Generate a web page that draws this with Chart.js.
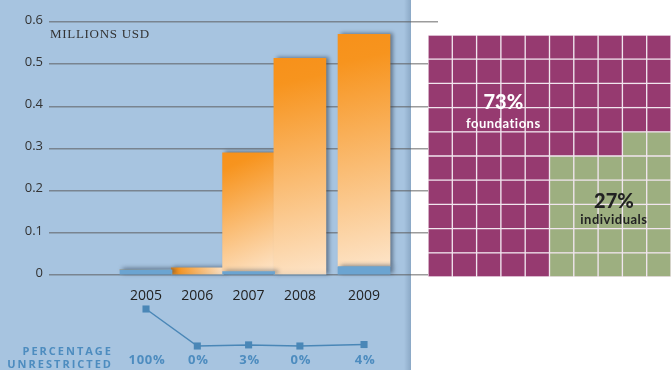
<!DOCTYPE html>
<html>
<head>
<meta charset="utf-8">
<script src="https://cdn.jsdelivr.net/npm/chart.js@4/dist/chart.umd.min.js"></script>
<style>
  body { margin: 0; background: #fff; }
  #wrap { position: relative; width: 671px; height: 370px; overflow: hidden; }
  #mainChart { position: absolute; left: 0; top: 0; }
  #waffleChart { position: absolute; left: 428px; top: 35px; }
</style>
</head>
<body>
<div id="wrap">
  <canvas id="mainChart" width="671" height="370"></canvas>
  <canvas id="waffleChart" width="243" height="242"></canvas>
</div>
<script>
// Datos
const years = ["2005", "2006", "2007", "2008", "2009"];
const unrestricted = [0.012, 0, 0.008, 0, 0.02];     // millones USD sin restricción
const restricted = [0, 0.017, 0.282, 0.514, 0.551];  // millones USD con restricción
const pctUnrestricted = [100, 0, 3, 0, 4];
const yTicks = [0, 0.1, 0.2, 0.3, 0.4, 0.5, 0.6];

const waffleLabels = ["foundations", "individuals"];
const waffleShares = [73, 27];

// posiciones de las columnas en el eje x (la de 2009 va separada)
const xSlots = [0, 1, 2, 3, 4.25];

const BG_BLUE = "#a7c4e0";
const BAR_BLUE = "#6ba4d1";
const LINE_BLUE = "#4a87b7";
const PURPLE = "#963a70";
const GREEN = "#9daf80";

function orangeFill(c) {
    const chart = c.chart;
    if (c.type !== "data" || !chart.scales.x || !chart.chartArea) return "#f7941e";
    const i = c.dataIndex;
    const { x, y } = chart.scales;
    const cx = x.getPixelForValue(xSlots[i]);
    const top = y.getPixelForValue(unrestricted[i] + restricted[i]);
    const bot = y.getPixelForValue(unrestricted[i]);
    const g = chart.ctx.createLinearGradient(cx - 26, top, cx + 26, bot);
    g.addColorStop(0, "#f7911a");
    g.addColorStop(0.12, "#f7941e");
    g.addColorStop(1, "#fde4c8");
    return g;
}

const backgroundPlugin = {
    id: "bluePanel",
    beforeDraw(chart) {
        const ctx = chart.ctx;
        ctx.save();
        ctx.fillStyle = BG_BLUE;
        ctx.fillRect(0, 0, 411, chart.height);
        const g = ctx.createLinearGradient(404, 0, 411, 0);
        g.addColorStop(0, "rgba(120,150,180,0)");
        g.addColorStop(1, "rgba(120,150,180,0.6)");
        ctx.fillStyle = g;
        ctx.fillRect(404, 0, 7, chart.height);
        ctx.restore();
    }
};

const shadowPlugin = {
    id: "barShadow",
    beforeDatasetDraw(chart, args) {
        if (args.meta.type !== "bar") return;
        const ctx = chart.ctx;
        ctx.save();
        ctx.shadowColor = "rgba(40,55,75,0.55)";
        ctx.shadowBlur = 4;
        ctx.shadowOffsetX = 3;
        ctx.shadowOffsetY = -1;
    },
    afterDatasetDraw(chart, args) {
        if (args.meta.type !== "bar") return;
        chart.ctx.restore();
    }
};

const textPlugin = {
    id: "extraText",
    afterDraw(chart) {
        const ctx = chart.ctx;
        const x = chart.scales.x;
        ctx.save();
        ctx.fillStyle = "#333";
        ctx.font = "13px 'Liberation Serif'";
        ctx.letterSpacing = "0.7px";
        ctx.textAlign = "left";
        ctx.textBaseline = "alphabetic";
        ctx.fillText("MILLIONS USD", 50, 38);

        ctx.fillStyle = "#4d8cbf";
        ctx.font = "bold 11px 'Open Sans'";
        ctx.letterSpacing = "2px";
        ctx.textAlign = "right";
        ctx.textBaseline = "middle";
        ctx.fillText("PERCENTAGE", 113, 352);
        ctx.fillText("UNRESTRICTED", 113, 365);

        ctx.font = "bold 13px 'Open Sans'";
        ctx.letterSpacing = "0.8px";
        ctx.textAlign = "center";
        pctUnrestricted.forEach((p, i) => {
            ctx.fillText(p + "%", x.getPixelForValue(xSlots[i]) + 1, 360);
        });
        ctx.restore();
    }
};

new Chart(document.getElementById("mainChart"), {
    data: {
        datasets: [
            {
                type: "line",
                yAxisID: "y2",
                order: 0,
                data: pctUnrestricted.map((v, i) => ({ x: xSlots[i], y: v })),
                borderColor: LINE_BLUE,
                borderWidth: 1.5,
                pointStyle: "rect",
                pointRadius: 5,
                pointBackgroundColor: LINE_BLUE,
                pointBorderColor: LINE_BLUE,
                pointBorderWidth: 0,
                clip: false
            },
            {
                type: "bar",
                order: 1,
                data: unrestricted.map((v, i) => ({ x: xSlots[i], y: v })),
                backgroundColor: BAR_BLUE,
                barThickness: 52,
                borderWidth: 0
            },
            {
                type: "bar",
                order: 2,
                data: restricted.map((v, i) => ({ x: xSlots[i], y: v })),
                backgroundColor: orangeFill,
                barThickness: 52,
                borderWidth: 0
            }
        ]
    },
    options: {
        responsive: false,
        animation: false,
        layout: { padding: { top: 22, right: 233, left: 0, bottom: 10 } },
        plugins: { legend: { display: false }, tooltip: { enabled: false } },
        scales: {
            x: {
                type: "linear",
                position: { y: 0 },
                min: -1.891,
                max: 5.692,
                offset: false,
                stacked: true,
                grid: { display: false, drawTicks: false },
                border: { display: false },
                afterBuildTicks: a => { a.ticks = xSlots.map(v => ({ value: v })); },
                afterFit: a => {
                    a.height = 0;
                    a.paddingLeft = 0;
                    a.paddingRight = 0;
                },
                ticks: {
                    autoSkip: false,
                    maxRotation: 0,
                    padding: 13,
                    color: "#222",
                    font: { family: "'Open Sans'", size: 14 },
                    callback: (v, i) => years[i]
                }
            },
            y: {
                stacked: true,
                min: -0.2016,
                max: 0.6,
                afterBuildTicks: a => { a.ticks = yTicks.map(v => ({ value: v })); },
                afterFit: a => {
                    a.width = 49;
                    a.paddingTop = 0;
                    a.paddingBottom = 0;
                },
                border: { display: false },
                grid: { color: "rgba(90,90,90,0.6)", lineWidth: 1.5, drawTicks: false },
                ticks: {
                    padding: 6,
                    labelOffset: -2,
                    color: "#333",
                    font: { family: "'Open Sans'", size: 13 },
                    callback: v => v === 0 ? "0" : v.toFixed(1)
                }
            },
            y2: { display: false, min: -37.84, max: 875.7 }
        }
    },
    plugins: [backgroundPlugin, shadowPlugin, textPlugin]
});

// Gráfico de cuadrícula 10x10 (waffle) con barras apiladas
const cols = 10, rows = 10;
const greenCount = waffleShares[1];
function isGreen(r, c) {
    // mitad derecha, llenando filas desde abajo y de derecha a izquierda
    if (c < 5) return false;
    return r * 5 + (9 - c) < greenCount;
}
const waffleSets = [];
for (let r = 0; r < rows; r++) {
    const colors = [];
    for (let c = 0; c < cols; c++) colors.push(isGreen(r, c) ? GREEN : PURPLE);
    waffleSets.push({
        data: new Array(cols).fill(1),
        backgroundColor: colors,
        borderColor: "#f1e5ee",
        borderWidth: 1,
        borderSkipped: false,
        barPercentage: 1,
        categoryPercentage: 1
    });
}

const waffleText = {
    id: "waffleText",
    afterDraw(chart) {
        const ctx = chart.ctx;
        const a = chart.chartArea;
        const px = f => a.left + f * (a.right - a.left);
        const py = f => a.top + f * (a.bottom - a.top);
        ctx.save();
        ctx.textAlign = "center";
        ctx.textBaseline = "middle";
        ctx.fillStyle = "#fff";
        ctx.font = "900 20px Lato";
        ctx.fillText(waffleShares[0] + "%", px(0.31), py(0.28));
        ctx.font = "bold 13px Lato";
        ctx.letterSpacing = "0.5px";
        ctx.fillText(waffleLabels[0], px(0.31), py(0.365));
        ctx.letterSpacing = "0px";
        ctx.fillStyle = "#222";
        ctx.font = "900 20px Lato";
        ctx.fillText(waffleShares[1] + "%", px(0.765), py(0.69));
        ctx.font = "bold 13px Lato";
        ctx.letterSpacing = "0.5px";
        ctx.fillText(waffleLabels[1], px(0.765), py(0.765));
        ctx.restore();
    }
};

new Chart(document.getElementById("waffleChart"), {
    type: "bar",
    data: { labels: Array.from({ length: cols }, (_, i) => i), datasets: waffleSets },
    options: {
        responsive: false,
        animation: false,
        layout: { padding: 0 },
        plugins: { legend: { display: false }, tooltip: { enabled: false } },
        scales: {
            x: { stacked: true, display: false },
            y: { stacked: true, display: false, min: 0, max: rows }
        }
    },
    plugins: [waffleText]
});
</script>
</body>
</html>
